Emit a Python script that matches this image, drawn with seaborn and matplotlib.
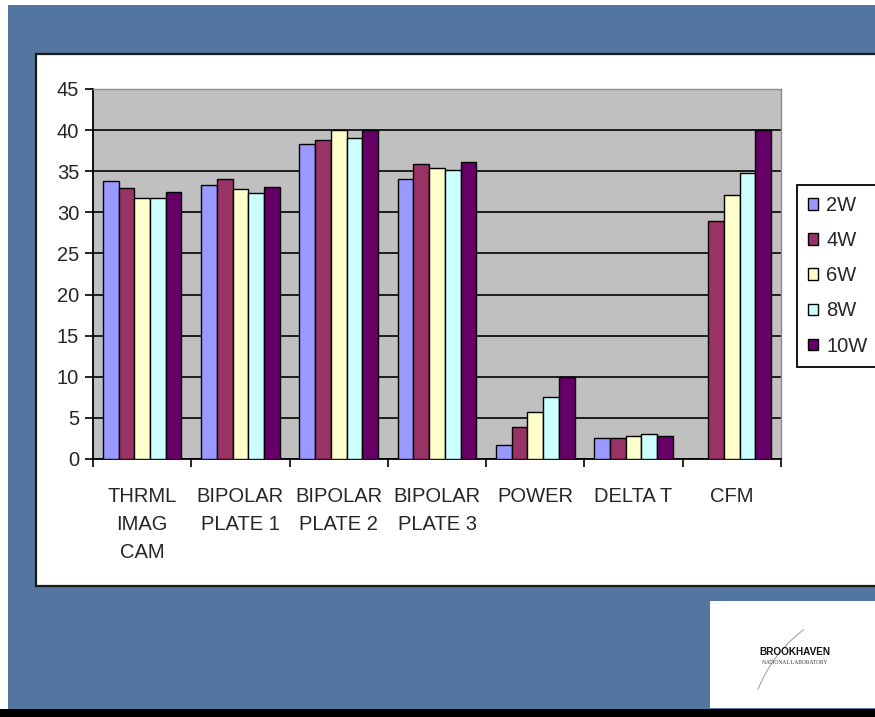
import numpy as np
import pandas as pd
import matplotlib.pyplot as plt
import seaborn as sns
from matplotlib.patches import Rectangle, FancyArrowPatch

# data
categories = ["THRML\nIMAG\nCAM", "BIPOLAR\nPLATE 1", "BIPOLAR\nPLATE 2",
              "BIPOLAR\nPLATE 3", "POWER", "DELTA T", "CFM"]
series = ["2W", "4W", "6W", "8W", "10W"]
w2 = [33.8, 33.3, 38.3, 34.1, 1.75, 2.5, np.nan]
w4 = [32.9, 34.1, 38.8, 35.9, 3.9, 2.5, 29.0]
w6 = [31.8, 32.8, 40.0, 35.4, 5.7, 2.8, 32.1]
w8 = [31.8, 32.3, 39.0, 35.2, 7.5, 3.0, 34.8]
w10 = [32.5, 33.1, 40.0, 36.1, 10.0, 2.8, 40.0]
colors = ["#9999FF", "#993366", "#FFFFCC", "#CCFFFF", "#660066"]

rows = []
for name, vals in zip(series, [w2, w4, w6, w8, w10]):
    for cat, v in zip(categories, vals):
        rows.append({"cat": cat, "series": name, "value": v})
df = pd.DataFrame(rows)

sns.set_style("white")
plt.rcParams['font.family'] = ['Liberation Sans', 'DejaVu Sans']

fig = plt.figure(figsize=(8.75, 7.17), dpi=100)
fig.patch.set_facecolor("white")

# slide decoration: blue slide inside a white margin, chart panel, logo box, black strip
fig.add_artist(Rectangle((8 / 875, 0), 1, 1 - 5 / 717, transform=fig.transFigure,
                         facecolor="#52769f", edgecolor="none", zorder=0))
fig.add_artist(Rectangle((36 / 875, 1 - 586 / 717), 1.0, 532 / 717,
                         transform=fig.transFigure, facecolor="white",
                         edgecolor="#1a1a1a", linewidth=1.6, zorder=0))
fig.add_artist(Rectangle((710 / 875, 1 - 708 / 717), 0.2, 107 / 717,
                         transform=fig.transFigure, facecolor="white",
                         edgecolor="none", zorder=0))
fig.add_artist(Rectangle((0, 0), 1, 8 / 717, transform=fig.transFigure,
                         facecolor="black", edgecolor="none", zorder=0))
fig.add_artist(FancyArrowPatch((757 / 875, 1 - 692 / 717), (806 / 875, 1 - 628 / 717),
                               transform=fig.transFigure, arrowstyle="-",
                               connectionstyle="arc3,rad=-0.15", color="#999999",
                               linewidth=0.7))
fig.text(795 / 875, 1 - 652 / 717, "BROOKHAVEN", ha="center", va="center",
         fontsize=7.2, fontweight="heavy", color="#111111",
         family=["Liberation Sans Narrow", "Liberation Sans"])
fig.text(795 / 875, 1 - 663 / 717, "NATIONAL LABORATORY", ha="center", va="center",
         fontsize=4.0, color="#333333", family=["Liberation Serif", "DejaVu Serif"])

ax = fig.add_axes([93 / 875, 1 - 459 / 717, 688 / 875, 370 / 717])
ax.set_facecolor("#C0C0C0")

sns.barplot(data=df, x="cat", y="value", hue="series", hue_order=series,
            order=categories, palette=colors, saturation=1, width=0.8,
            edgecolor="black", linewidth=1, ax=ax, zorder=3)

ax.set_ylim(0, 45)
ax.set_yticks(range(0, 46, 5))
ax.set_xlim(-0.5, len(categories) - 0.5)
ax.set_xlabel("")
ax.set_ylabel("")

ax.yaxis.grid(True, color="black", linewidth=1.2, zorder=1)
ax.set_axisbelow(True)
ax.get_ygridlines()[-1].set_visible(False)

for side in ["top", "right"]:
    ax.spines[side].set_color("#8c8c8c")
    ax.spines[side].set_linewidth(1)
for side in ["left", "bottom"]:
    ax.spines[side].set_color("black")
    ax.spines[side].set_linewidth(1.3)

ax.tick_params(axis="y", which="major", left=True, length=6, width=1.2,
               direction="out", pad=4, labelsize=14.5, color="black")
ax.set_xticks(np.arange(-0.5, len(categories), 1), minor=True)
ax.tick_params(axis="x", which="minor", bottom=True, length=6, width=1.2,
               direction="out", color="black")
ax.tick_params(axis="x", which="major", length=0, pad=20, labelsize=14.5)
for lab in ax.get_xticklabels():
    lab.set_linespacing(1.62)
    lab.set_va("top")

handles, labels = ax.get_legend_handles_labels()
leg = ax.legend(handles, labels, loc="upper left",
                bbox_to_anchor=(797 / 875, 1 - 185 / 717),
                bbox_transform=fig.transFigure, borderaxespad=0,
                fontsize=14.5, frameon=True, fancybox=False,
                handlelength=0.5, handleheight=0.5, handletextpad=0.4,
                labelspacing=0.8, borderpad=0.55)
leg.get_frame().set_edgecolor("black")
leg.get_frame().set_linewidth(1.3)
leg.get_frame().set_facecolor("white")
leg.get_frame().set_alpha(1)

fig.savefig("out.png", dpi=100, facecolor=fig.get_facecolor())
